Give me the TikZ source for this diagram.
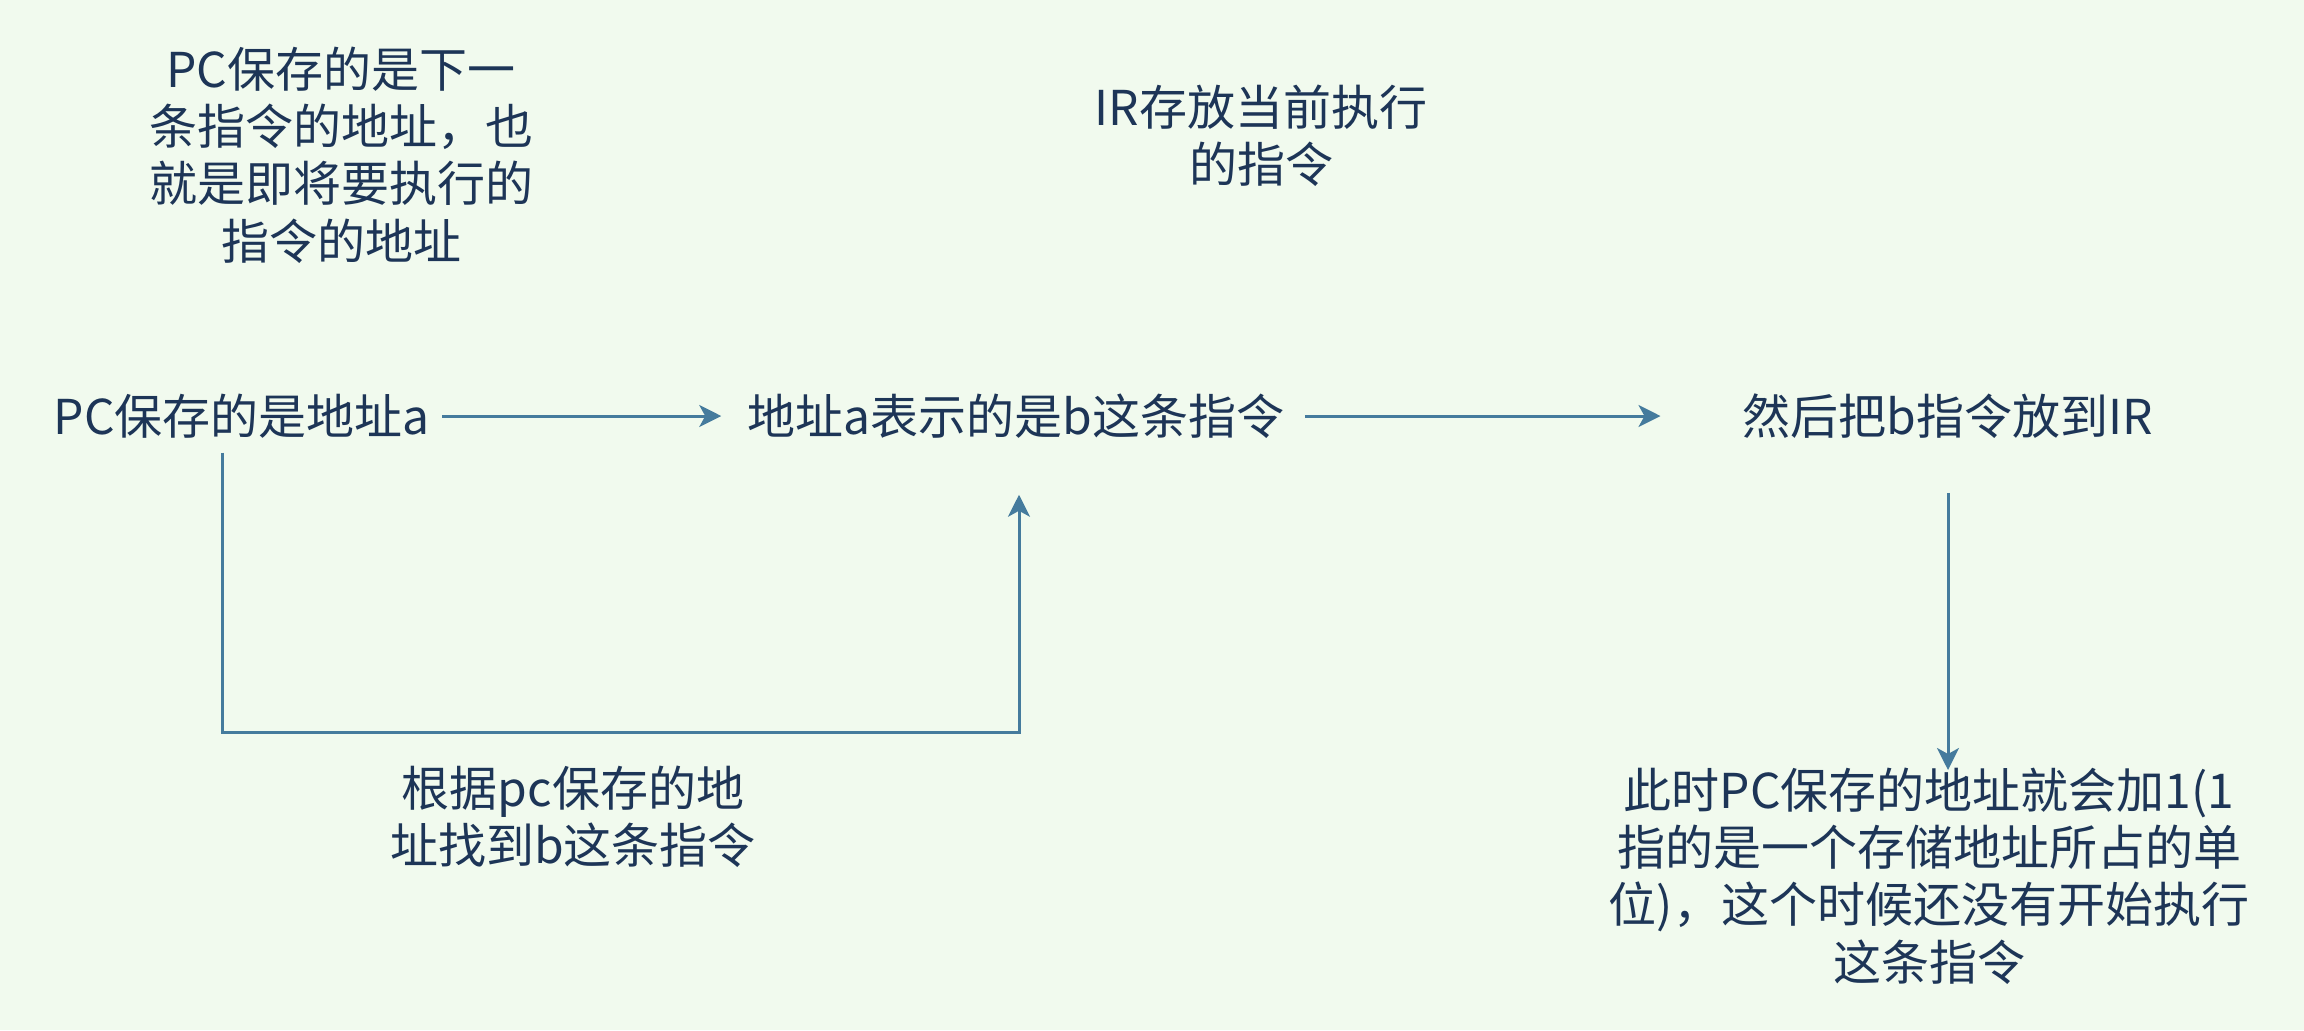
\documentclass[tikz,border=0pt]{standalone}
\usepackage{fontspec}
\setmainfont{Noto Sans CJK SC}
\usetikzlibrary{arrows.meta}
\definecolor{bgc}{HTML}{F1FAEE}
\definecolor{txt}{HTML}{1D3557}
\definecolor{lnc}{HTML}{457B9D}
\begin{document}
\begin{tikzpicture}[x=0.5pt,y=-0.5pt,
  lbl/.style={inner sep=0pt,align=center,text=txt,font=\fontsize{24pt}{28.7pt}\selectfont},
  conn/.style={draw=lnc,line width=1.5pt},
  tip/.style={-{Stealth[length=11pt,width=11pt,inset=3pt]}}]
\useasboundingbox (0,0) rectangle (2304,1030);
\fill[bgc] (0,0) rectangle (2304,1030);
\node[lbl] (pcnote) at (341,155) {PC保存的是下一\\条指令的地址，也\\就是即将要执行的\\指令的地址};
\node[lbl] (irnote) at (1261,136) {IR存放当前执行\\的指令};
\node[lbl] (pc) at (242,416) {PC保存的是地址a};
\node[lbl] (addr) at (1016,416) {地址a表示的是b这条指令};
\node[lbl] (ir) at (1948,416) {然后把b指令放到IR};
\node[lbl] (find) at (573,817) {根据pc保存的地\\址找到b这条指令};
\node[lbl] (inc) at (1929,876) {此时PC保存的地址就会加1(1\\指的是一个存储地址所占的单\\位)，这个时候还没有开始执行\\这条指令};
\coordinate (c1) at (222,732);
\coordinate (c2) at (1019,732);
\coordinate (incend) at (1948,770);
\draw[conn,tip] ([xshift=6pt]pc.east) -- ([xshift=-13pt]addr.west);
\draw[conn,tip] ([xshift=10pt]addr.east) -- ([xshift=-41pt]ir.west);
\draw[conn,tip,shorten <=7pt,shorten >=28pt] (pc.south -| c1) -- (c1) -- (c2) -- (addr.south -| c2);
\draw[conn,tip,shorten <=27pt] (ir.south) -- (incend);
\end{tikzpicture}
\end{document}
